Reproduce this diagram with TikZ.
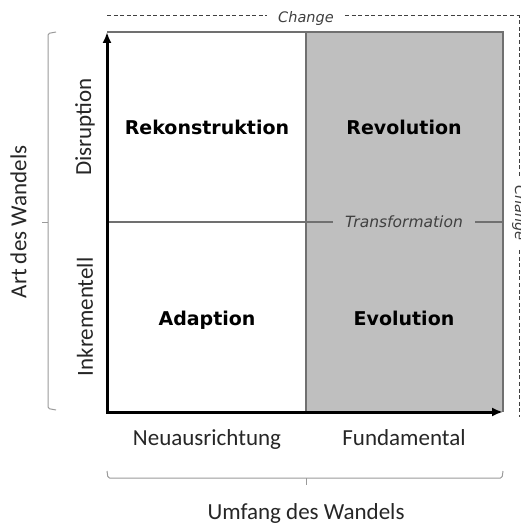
\documentclass[tikz,border=0pt]{standalone}
\usepackage{fontspec}
\usetikzlibrary{arrows.meta}
\newfontfamily\labfont{Carlito}
\newfontfamily\cellfont{DejaVu Sans}
\definecolor{cellgrey}{HTML}{BFBFBF}
\definecolor{linegrey}{HTML}{707070}
\definecolor{brackgrey}{HTML}{9A9A9A}
\definecolor{notegrey}{HTML}{404040}
\tikzset{
  axislab/.style={font=\labfont\fontsize{23}{26}\selectfont, text=black!85, inner sep=0pt},
  celllab/.style={font=\cellfont\bfseries\fontsize{19}{22}\selectfont, text=black, inner sep=0pt, anchor=base},
  notelab/.style={font=\cellfont\itshape\fontsize{14.5}{17}\selectfont, text=notegrey, inner xsep=11pt, inner ysep=0pt},
  gridline/.style={draw=linegrey, line width=1.2pt},
  borderline/.style={draw=linegrey, line width=1.5pt},
  axisline/.style={draw=black, line width=3pt, {Latex[length=11pt,width=9pt]}-{Latex[length=11pt,width=9pt]}},
  dashline/.style={draw=notegrey, line width=1pt, dash pattern=on 4pt off 2.6pt},
  bracketline/.style={draw=brackgrey, line width=1pt, rounded corners=1.5pt}
}
\begin{document}
\begin{tikzpicture}[x=1pt,y=-1pt]
\useasboundingbox (0,0) rectangle (521,524);
% corners
\coordinate (O) at (107,412);
\coordinate (TL) at (107,32);
\coordinate (TR) at (503,32);
\coordinate (BR) at (503,412);
\coordinate (MT) at (306,32);
\coordinate (MB) at (306,412);
\coordinate (ML) at (107,222);
\coordinate (MR) at (503,222);
% grey half
\fill[cellgrey] (MT) rectangle (BR);
% transformation label
\node[notelab, font=\cellfont\itshape\fontsize{15.5}{18}\selectfont, inner xsep=12pt, anchor=base] (transf) at (404,227.5) {Transformation};
\draw[gridline] (MT) -- (MB);
\draw[gridline] (ML) -- (transf.west |- ML);
\draw[gridline] (transf.east |- MR) -- (MR);
\draw[borderline] (TL) -- (TR) -- (BR);
% axes
\draw[axisline] (TL) -- (O) -- (BR);
% cell labels
\node[celllab] (rek) at (207,135) {Rekonstruktion};
\node[celllab] (rev) at (404,135) {Revolution};
\node[celllab] (ada) at (207,325) {Adaption};
\node[celllab] (evo) at (404,325) {Evolution};
% axis labels
\node[axislab, rotate=90] (dis) at (85,127) {Disruption};
\node[axislab, rotate=90] (ink) at (85,317) {Inkrementell};
\node[axislab, rotate=90] (art) at (18.5,222) {Art des Wandels};
\node[axislab, anchor=base] (neu) at (207,445) {Neuausrichtung};
\node[axislab, anchor=base] (fun) at (404,445) {Fundamental};
\node[axislab, anchor=base] (umf) at (306,519.5) {Umfang des Wandels};
% brackets
\coordinate (lbT) at (56,32);
\coordinate (lbB) at (56,410);
\coordinate (lbTick) at (42,222);
\draw[bracketline] (lbT) -- (48,33.5) -- (48,408.5) -- (lbB);
\draw[bracketline] (48,222) -- (lbTick);
\coordinate (bbL) at (107,471);
\coordinate (bbR) at (503,471);
\coordinate (bbTick) at (306,485);
\draw[bracketline] (bbL) -- (108,478) -- (502,478) -- (bbR);
\draw[bracketline] (306,478) -- (bbTick);
% dashed change frame
\coordinate (cs) at (107,16);
\coordinate (cc) at (519,16);
\coordinate (ce) at (519,417);
\node[notelab, anchor=base] (ctop) at (306,22.5) {Change};
\node[notelab, rotate=-90, inner xsep=9pt] (cright) at (519,213) {Change};
\draw[dashline] (cs) -- (ctop.west |- cs);
\draw[dashline] (ctop.east |- cs) -- (cc) -- (cright.west -| cc);
\draw[dashline] (cright.east -| cc) -- (ce);
\end{tikzpicture}
\end{document}
